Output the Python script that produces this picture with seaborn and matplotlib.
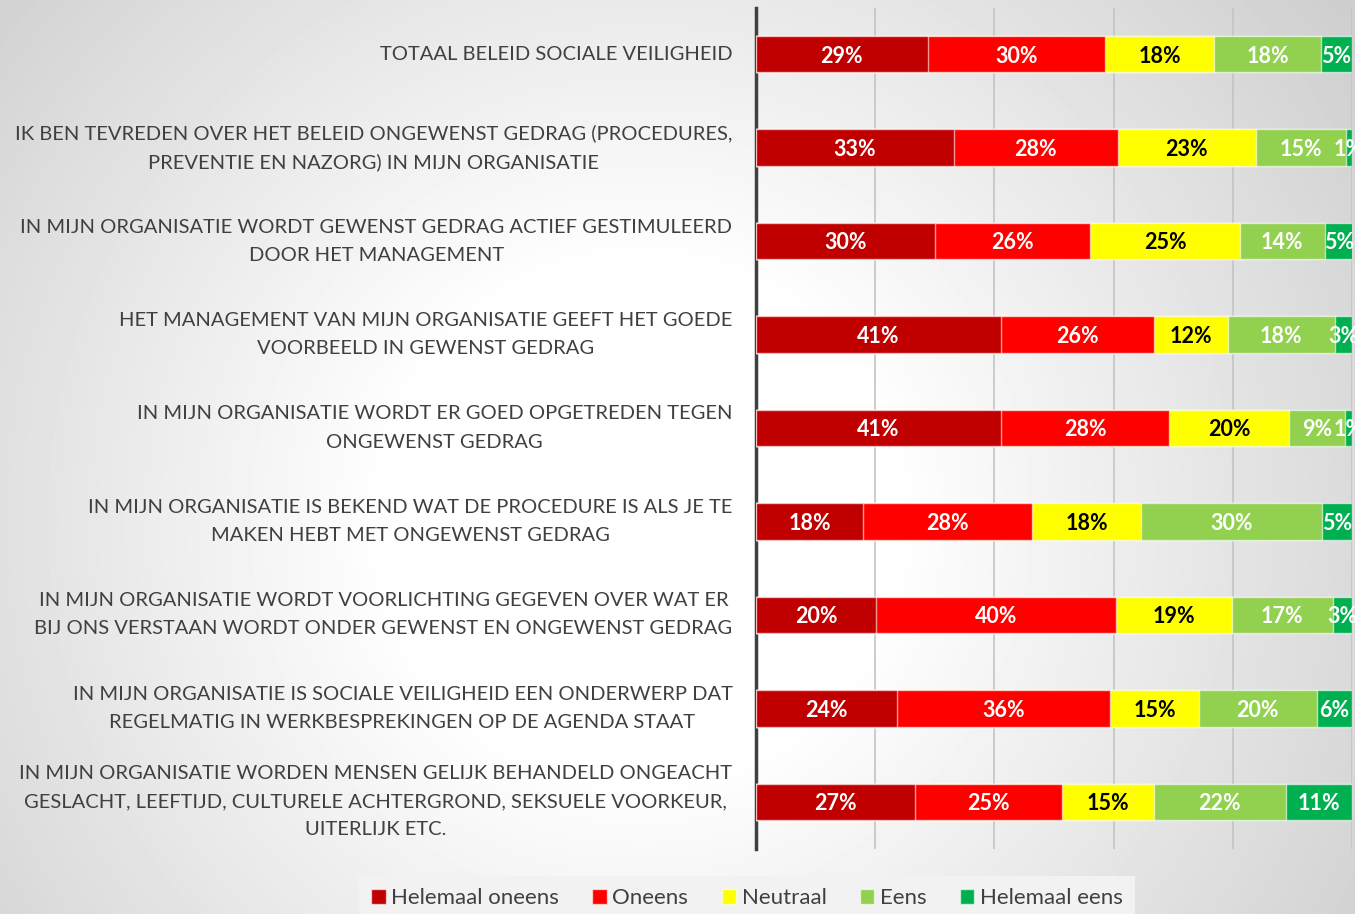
import matplotlib
matplotlib.use("Agg")
import matplotlib.pyplot as plt
from matplotlib.patches import Patch
import seaborn as sns
import numpy as np
import pandas as pd

# data
statements = [
    "TOTAAL BELEID SOCIALE VEILIGHEID",
    "IK BEN TEVREDEN OVER HET BELEID ONGEWENST GEDRAG (PROCEDURES,\nPREVENTIE EN NAZORG) IN MIJN ORGANISATIE",
    "IN MIJN ORGANISATIE WORDT GEWENST GEDRAG ACTIEF GESTIMULEERD\nDOOR HET MANAGEMENT",
    "HET MANAGEMENT VAN MIJN ORGANISATIE GEEFT HET GOEDE\nVOORBEELD IN GEWENST GEDRAG",
    "IN MIJN ORGANISATIE WORDT ER GOED OPGETREDEN TEGEN\nONGEWENST GEDRAG",
    "IN MIJN ORGANISATIE IS BEKEND WAT DE PROCEDURE IS ALS JE TE\nMAKEN HEBT MET ONGEWENST GEDRAG",
    "IN MIJN ORGANISATIE WORDT VOORLICHTING GEGEVEN OVER WAT ER\nBIJ ONS VERSTAAN WORDT ONDER GEWENST EN ONGEWENST GEDRAG",
    "IN MIJN ORGANISATIE IS SOCIALE VEILIGHEID EEN ONDERWERP DAT\nREGELMATIG IN WERKBESPREKINGEN OP DE AGENDA STAAT",
    "IN MIJN ORGANISATIE WORDEN MENSEN GELIJK BEHANDELD ONGEACHT\nGESLACHT, LEEFTIJD, CULTURELE ACHTERGROND, SEKSUELE VOORKEUR,\nUITERLIJK ETC.",
]
answers = ["Helemaal oneens", "Oneens", "Neutraal", "Eens", "Helemaal eens"]
# percentages (labels show them rounded)
helemaal_oneens = [28.8, 33.2, 30.1, 41.1, 41.1, 18.0, 20.1, 23.7, 26.6]
oneens = [29.7, 27.5, 26.0, 25.7, 28.2, 28.3, 40.3, 35.7, 24.8]
neutraal = [18.4, 23.2, 25.1, 12.4, 20.1, 18.3, 19.4, 14.9, 15.3]
eens = [17.9, 15.1, 14.2, 17.9, 9.4, 30.4, 17.0, 19.8, 22.2]
helemaal_eens = [5.2, 1.0, 4.8, 2.9, 1.2, 5.0, 3.2, 5.9, 11.1]

colors = ["#C00000", "#FF0000", "#FFFF00", "#92D050", "#00B050"]
text_colors = ["white", "white", "black", "white", "white"]

df = pd.DataFrame(
    {a: v for a, v in zip(answers, [helemaal_oneens, oneens, neutraal, eens, helemaal_eens])},
    index=statements,
)
cum = df.cumsum(axis=1)

W, H, DPI = 1355, 914, 100
sns.set_theme(style="white")
plt.rcParams["font.family"] = ["Lato", "DejaVu Sans"]

fig = plt.figure(figsize=(W / DPI, H / DPI), dpi=DPI)

# gradient background
bg = fig.add_axes([0, 0, 1, 1], zorder=-10)
yy, xx = np.mgrid[0:H, 0:W]
d = np.hypot((xx - 640) / 1.0, (yy - 520) / 1.0)
shade = np.clip(1.0 - np.clip(d - 250, 0, None) / 650 * 0.2, 0.79, 1.0)
bg.imshow(shade, cmap="gray", vmin=0, vmax=1, aspect="auto", extent=[0, 1, 0, 1])
bg.axis("off")

ax = fig.add_axes([756 / W, 1 - 848.5 / H, 596 / W, 841 / H])
ax.set_facecolor("none")

for i in reversed(range(len(answers))):
    sns.barplot(x=cum[answers[i]].values, y=statements, orient="h", color=colors[i],
                saturation=1, width=0.39, edgecolor=(1, 1, 1, 0.6), linewidth=1,
                ax=ax, zorder=3)

for i, a in enumerate(answers):
    for j, s in enumerate(statements):
        v = df.loc[s, a]
        xc = cum.loc[s, a] - v / 2
        ax.text(xc, j + 0.02, f"{v:.0f}%", ha="center", va="center", color=text_colors[i],
                fontsize=15.5, fontweight="bold", zorder=5, clip_on=False)

ax.set_xlim(0, 100)
ax.set_ylim(len(statements) - 0.5, -0.5)
ax.set_xticks([20, 40, 60, 80, 100])
ax.set_xticklabels([])
ax.xaxis.grid(True, color="#c4c4c4", linewidth=1.2, zorder=0)
ax.set_axisbelow(True)
ax.set_xlabel("")
ax.set_ylabel("")
for sp in ["top", "right", "bottom"]:
    ax.spines[sp].set_visible(False)
ax.spines["left"].set_color("#404040")
ax.spines["left"].set_linewidth(2.5)
ax.tick_params(axis="y", length=0, pad=17)
ax.tick_params(axis="x", length=0)
for lbl in ax.get_yticklabels():
    lbl.set_fontsize(14.5)
    lbl.set_color("#404040")
    lbl.set_multialignment("center")
    lbl.set_linespacing(1.8)
    lbl.set_verticalalignment("center")

handles = [Patch(facecolor=c, edgecolor=(1, 1, 1, 0.6), label=a) for c, a in zip(colors, answers)]
fig.legend(handles=handles, loc="center", bbox_to_anchor=(747 / W, 1 - 898 / H), ncol=5,
           frameon=True, facecolor="#f2f2f2", edgecolor="none", fancybox=False, framealpha=1,
           fontsize=16, handlelength=0.65, handleheight=0.65, handletextpad=0.25,
           columnspacing=1.5, labelcolor="#404040", borderpad=0.55)

fig.savefig("out.png", dpi=DPI)
